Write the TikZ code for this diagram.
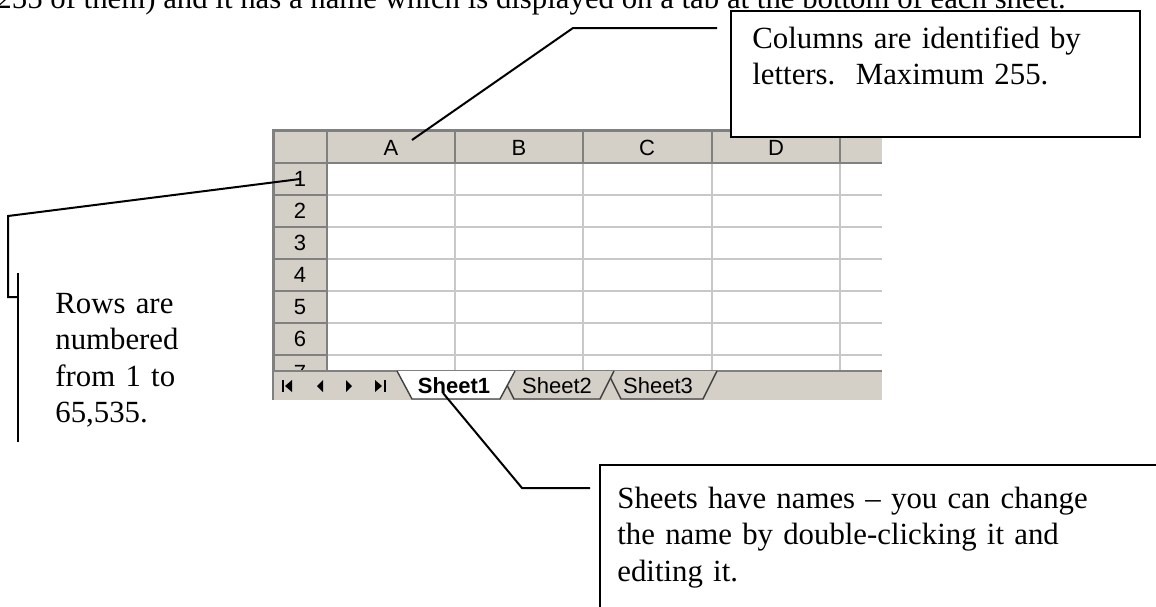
\documentclass[tikz,border=0pt]{standalone}
\usepackage{fontspec}
\setmainfont{Liberation Serif}
\newfontfamily\xlfont{Liberation Sans}

\definecolor{xlgray}{HTML}{D4D0C8}
\definecolor{xlgrid}{HTML}{C8C8C8}
\definecolor{xldark}{HTML}{808080}

\begin{document}
\begin{tikzpicture}[
  x=0.5pt, y=-0.5pt,
  note/.style={font=\fontsize{15.4}{18.3}\selectfont, anchor=base west, inner sep=0pt, align=left},
  hdr/.style={font=\xlfont\fontsize{11}{12}\selectfont, inner sep=0pt},
  tabtext/.style={font=\xlfont\fontsize{11}{12}\selectfont, inner sep=0pt},
  seltab/.style={font=\xlfont\bfseries\fontsize{11}{12}\selectfont, inner sep=0pt},
  tabshape/.style={draw=black!75, line width=0.7pt},
  line/.style={line width=1pt},
  gridline/.style={xlgrid, line width=0.9pt},
  sep/.style={xldark, line width=0.9pt}
]
\useasboundingbox (0,0) rectangle (1156,606);
\clip (0,0) rectangle (1156,606);

% text of the page above
\node[note, anchor=base east] (pagetext) at (1066,8) {255 of them) and it has a name which is displayed on a tab at the bottom of each sheet.};

% sheet
\fill[white] (327,163) rectangle (882,371);
\fill[xlgray] (273,130) rectangle (882,163);
\fill[xlgray] (273,163) rectangle (327,371);
\foreach \y in {195,227,...,355} {
  \draw[gridline] (327,\y) -- (882,\y);
  \draw[sep] (273,\y) -- (327,\y);
}
\foreach \x in {455,583,712,840} {
  \draw[gridline] (\x,163) -- (\x,371);
  \draw[sep] (\x,130) -- (\x,163);
}
\draw[sep] (327,130) -- (327,371);
\draw[sep] (273,163) -- (882,163);
\draw[xldark, line width=1.5pt] (882,130) -- (273,130) -- (273,400);

\node[hdr] (colA) at (391,148) {A};
\node[hdr] (colB) at (519,148) {B};
\node[hdr] (colC) at (647,148) {C};
\node[hdr] (colD) at (776,148) {D};
\foreach \n in {1,...,6}
  \node[hdr] (row\n) at (300,147+32*\n) {\n};
\begin{scope}
  \clip (273,355) rectangle (327,371);
  \node[hdr] (row7) at (300,373) {7};
\end{scope}

% tab bar
\fill[xlgray] (274,371) rectangle (882,400);
\draw[sep] (273,371) -- (882,371);
\fill (282,380) rectangle (284,392);
\fill (285,386) -- (292,380) -- (292,392) -- cycle;
\fill (317,386) -- (323,380) -- (323,392) -- cycle;
\fill (352,386) -- (346,380) -- (346,392) -- cycle;
\fill (382,386) -- (375,380) -- (375,392) -- cycle;
\fill (384,380) rectangle (386,392);
\filldraw[tabshape, fill=xlgray] (607,371) -- (621,399) -- (703,399) -- (717,371);
\filldraw[tabshape, fill=xlgray] (500,371) -- (514,399) -- (600,399) -- (614,371);
\filldraw[tabshape, fill=white] (397,371) -- (412,399) -- (500,399) -- (515,371);
\node[seltab] (tab1) at (454,386) {Sheet1};
\node[tabtext] (tab2) at (557,386) {Sheet2};
\node[tabtext] (tab3) at (658,386) {Sheet3};

% columns note
\filldraw[line, fill=white] (731,11) rectangle (1140,137);
\node[note, text width=190pt] (colnote) at (752,48) {Columns are identified by\\letters.\ \ Maximum 255.};
\coordinate (colfoot) at (717,28);
\coordinate (colbend) at (573,28);
\coordinate (colptr) at (412,140);
\draw[line] (colfoot) -- (colbend) -- (colptr);

% rows note
\draw[line] (18,273) -- (18,442);
\node[note, text width=70pt] (rownote) at (55,313) {Rows are\\numbered\\from 1 to\\65,535.};
\coordinate (rowjoin) at (18,297);
\coordinate (rowbend) at (8,216);
\draw[line] (rowjoin) -| (rowbend) -- (row1.center);

% sheets note
\draw[line] (1160,465) -- (600,465) -- (600,610);
\node[note, text width=260pt] (sheetnote) at (617,508) {Sheets have names -- you can change\\the name by double-clicking it and\\editing it.};
\coordinate (sheetfoot) at (590,488);
\coordinate (sheetbend) at (522,488);
\coordinate (sheetptr) at (443,393);
\draw[line] (sheetfoot) -- (sheetbend) -- (sheetptr);
\end{tikzpicture}
\end{document}
